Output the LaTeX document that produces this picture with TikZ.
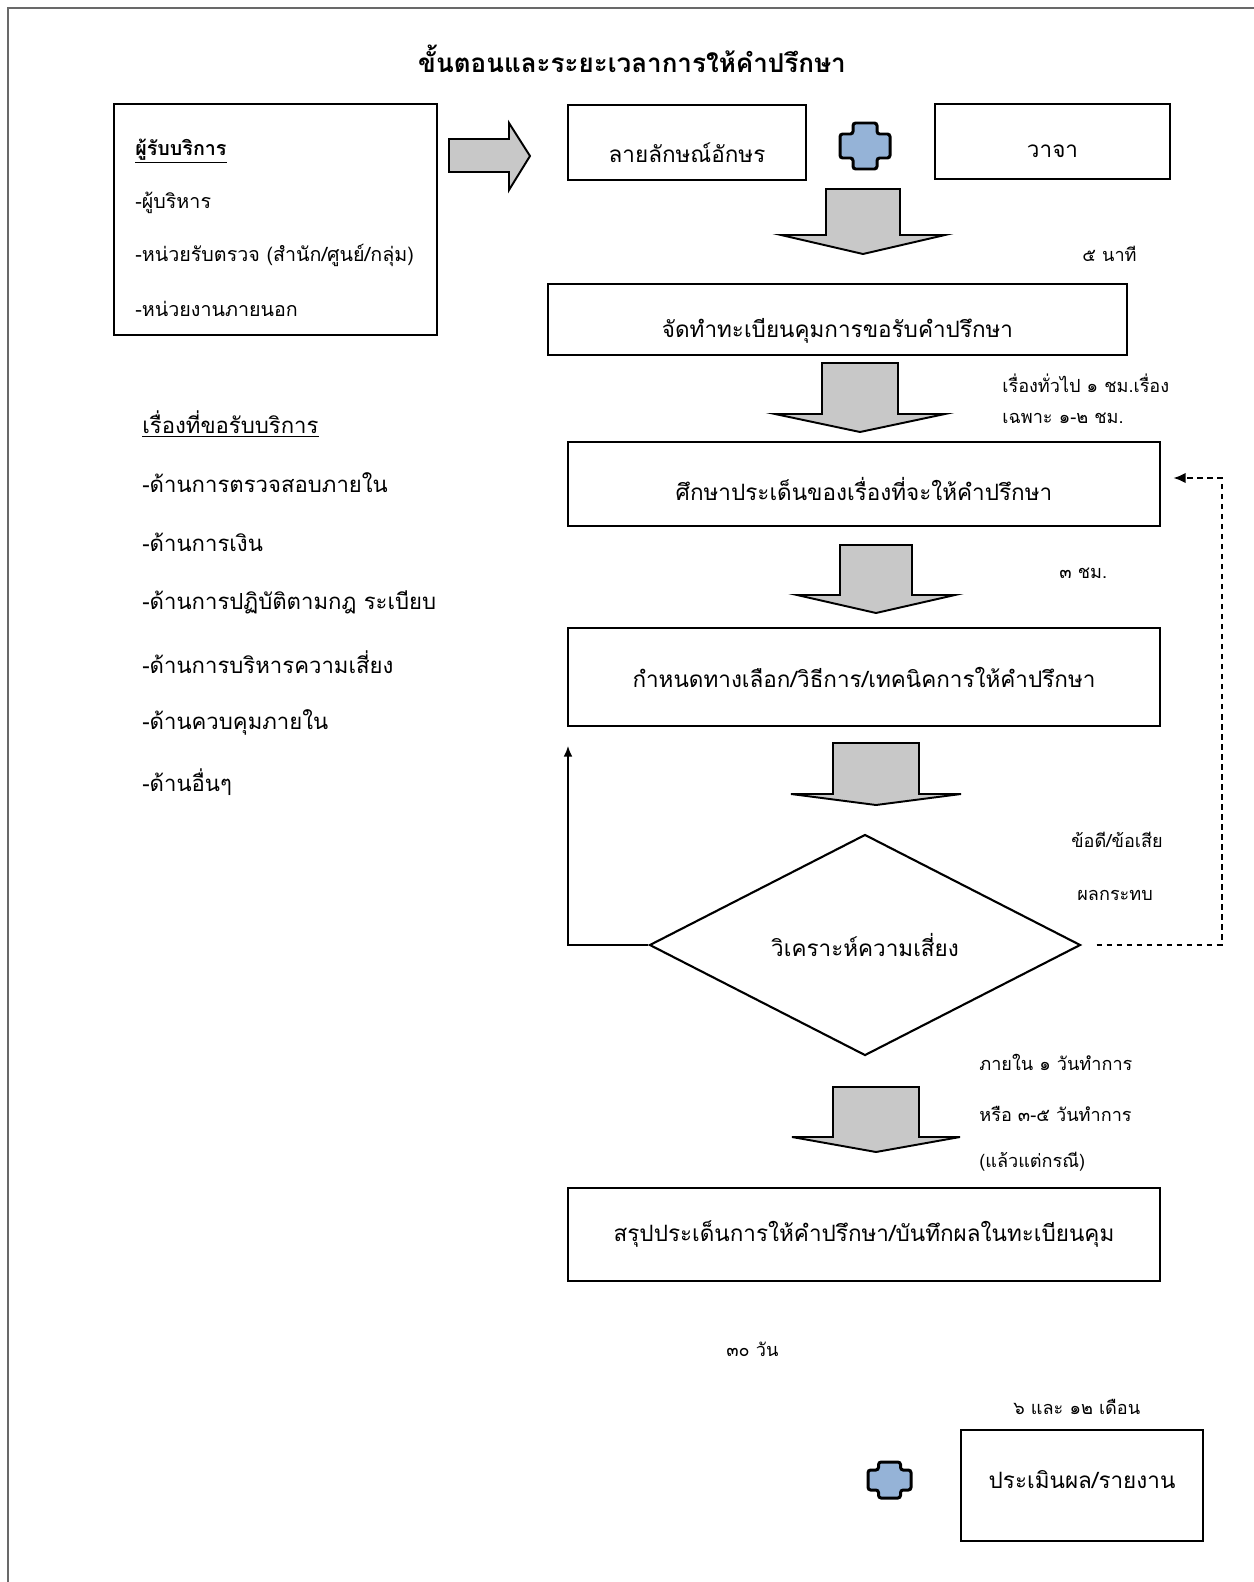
\documentclass[tikz,border=0pt]{standalone}
\usepackage{fontspec}
\setmainfont[Script=Thai]{Loma}
\usetikzlibrary{shapes.geometric,arrows.meta}
\definecolor{arrowgray}{RGB}{200,200,200}
\definecolor{crossblue}{RGB}{149,179,215}
\definecolor{framegray}{RGB}{105,105,105}
\tikzset{
    box/.style 2 args={draw,line width=1.6pt,minimum width=#1*0.02cm,minimum height=#2*0.02cm,inner sep=0pt},
    boxtext/.style={font=\fontsize{12.8}{15}\selectfont,inner sep=0pt},
    blockarrow/.style={draw,line width=1.1pt,fill=arrowgray,line join=miter},
    crossshape/.style={draw,line width=1.7pt,fill=crossblue,rounded corners=1.5pt},
    listitem/.style={font=\fontsize{12.6}{15}\selectfont,anchor=west,inner sep=0pt},
    clientitem/.style={font=\fontsize{11.2}{13}\selectfont,anchor=west,inner sep=0pt},
    note/.style={font=\fontsize{10.3}{12}\selectfont,anchor=west,inner sep=0pt}
}
\begin{document}
\begin{tikzpicture}[x=0.02cm,y=-0.02cm]
    \useasboundingbox (0,0) rectangle (1254,1582);
    %page frame
    \draw[framegray,line width=1.4pt] (8,1582) -- (8,8) -- (1254,8);
    %title
    \node[font=\fontsize{14.8}{17}\selectfont\bfseries,inner sep=0pt] (title) at (632,59) {ขั้นตอนและระยะเวลาการให้คำปรึกษา};
    %clients
    \node[box={323}{231}] (client) at (275.5,219.5) {};
    \node[clientitem] (clienthead) at (135,151) {\bfseries\underline{ผู้รับบริการ}};
    \foreach \t [count=\i] in {{-ผู้บริหาร},{-หน่วยรับตรวจ (สำนัก/ศูนย์/กลุ่ม)},{-หน่วยงานภายนอก}}
        {%
            \node[clientitem] (client\i) at (135,149.5+53*\i) {\t};
        }
    %topics
    \node[listitem] (topichead) at (142,424) {\underline{เรื่องที่ขอรับบริการ}};
    \foreach \t [count=\i] in {{-ด้านการตรวจสอบภายใน},{-ด้านการเงิน},{-ด้านการปฏิบัติตามกฎ ระเบียบ},{-ด้านการบริหารความเสี่ยง},{-ด้านควบคุมภายใน},{-ด้านอื่นๆ}}
        {%
            \node[listitem] (topic\i) at (142,423+59.8*\i) {\t};
        }
    %boxes
    \node[box={238}{75},label={[boxtext,name=writtext,yshift=-0.2cm]center:ลายลักษณ์อักษร}] (writ) at (687,142.5) {};
    \node[box={235}{75},label={[boxtext,name=verbaltext,yshift=-0.2cm]center:วาจา}] (verbal) at (1052.5,141.5) {};
    \node[box={579}{71},label={[boxtext,name=regtext,yshift=-0.23cm]center:จัดทำทะเบียนคุมการขอรับคำปรึกษา}] (reg) at (837.5,319.5) {};
    \node[box={592}{84},label={[boxtext,name=studytext,yshift=-0.1cm]center:ศึกษาประเด็นของเรื่องที่จะให้คำปรึกษา}] (study) at (864,484) {};
    \node[box={592}{98},label={[boxtext,name=methodtext]center:กำหนดทางเลือก/วิธีการ/เทคนิคการให้คำปรึกษา}] (method) at (864,677) {};
    \node[diamond,draw,line width=1.2pt,aspect=2,inner sep=0pt,minimum width=431*0.02cm,minimum height=221*0.02cm,font=\fontsize{12.8}{15}\selectfont] (risk) at (865,945) {วิเคราะห์ความเสี่ยง};
    \node[box={592}{93},label={[boxtext,name=summtext]center:สรุปประเด็นการให้คำปรึกษา/บันทึกผลในทะเบียนคุม}] (summ) at (864,1234.5) {};
    \node[box={242}{111},label={[boxtext,name=evaltext,yshift=0.12cm]center:ประเมินผล/รายงาน}] (eval) at (1082,1485.5) {};
    %right arrow
    \draw[blockarrow] (449,139) -- (509,139) -- (509,123) -- (530,156) -- (509,190) -- (509,172) -- (449,172) -- cycle;
    %down arrows
    \foreach \cx/\ty/\by/\tip/\sw/\ww in {863/189/235/254/37/82, 860/363/414/432/38/85, 876/545/595/613/36/79, 876/743/794/805/43/85, 876/1087/1137/1152/43/84}
        {%
            \draw[blockarrow] (\cx-\sw,\ty) -- (\cx+\sw,\ty) -- (\cx+\sw,\by) -- (\cx+\ww,\by) -- (\cx,\tip) -- (\cx-\ww,\by) -- (\cx-\sw,\by) -- cycle;
        }
    %plus signs
    \foreach \cx/\cy/\w/\h/\a/\b in {865/146/25/23/12/12, 889.5/1480/21.5/18/11/10}
        {%
            \draw[crossshape] (\cx-\a,\cy-\h) -- (\cx+\a,\cy-\h) -- (\cx+\a,\cy-\b) -- (\cx+\w,\cy-\b) -- (\cx+\w,\cy+\b) -- (\cx+\a,\cy+\b) -- (\cx+\a,\cy+\h) -- (\cx-\a,\cy+\h) -- (\cx-\a,\cy+\b) -- (\cx-\w,\cy+\b) -- (\cx-\w,\cy-\b) -- (\cx-\a,\cy-\b) -- cycle;
        }
    %time notes
    \node[note] (t1) at (1082,254) {๕ นาที};
    \node[note] (t2) at (1002,383) {เรื่องทั่วไป ๑ ชม.เรื่อง};
    \node[note] (t3) at (1002,418) {เฉพาะ ๑-๒ ชม.};
    \node[note] (t4) at (1059,573) {๓ ชม.};
    \node[note] (t5) at (1071,840) {ข้อดี/ข้อเสีย};
    \node[note] (t6) at (1077,895) {ผลกระทบ};
    \node[note] (t7) at (979,1062) {ภายใน ๑ วันทำการ};
    \node[note] (t8) at (979,1114) {หรือ ๓-๕ วันทำการ};
    \node[note] (t9) at (979,1162) {(แล้วแต่กรณี)};
    \node[note] (t10) at (726,1349) {๓๐ วัน};
    \node[note] (t11) at (1013,1407) {๖ และ ๑๒ เดือน};
    %loops
    \coordinate (loopup) at (568,746);
    \draw[line width=0.9pt,-{Latex[length=6pt,width=5pt]}] (risk.west) -| (loopup);
    \draw[line width=1.1pt,dash pattern=on 3.2pt off 2.5pt,-{Latex[length=7pt,width=6pt]},shorten <=0.3cm,shorten >=0.24cm] (risk.east) -- ++(140,0) |- ([yshift=0.12cm]study.east);
\end{tikzpicture}
\end{document}
